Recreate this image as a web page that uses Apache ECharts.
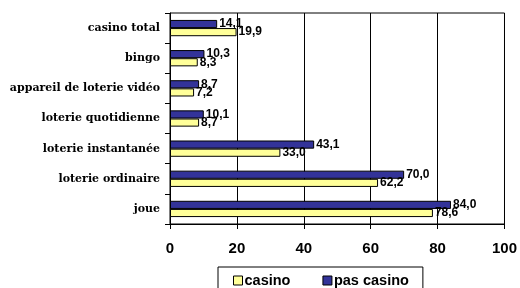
<!DOCTYPE html>
<html>
<head>
<meta charset="utf-8">
<script src="https://cdn.jsdelivr.net/npm/echarts@6/dist/echarts.min.js"></script>
<style>
html, body { margin: 0; padding: 0; background: #fff; }
#chart { width: 520px; height: 288px; }
</style>
</head>
<body>
<div id="chart"></div>
<script>
// categories listed bottom to top
var categories = ['joue', 'loterie ordinaire', 'loterie instantanée', 'loterie quotidienne',
    'appareil de loterie vidéo', 'bingo', 'casino total'];
var casino = [78.6, 62.2, 33.0, 8.7, 7.2, 8.3, 19.9];
var pasCasino = [84.0, 70.0, 43.1, 10.1, 8.7, 10.3, 14.1];
var xTicks = [0, 20, 40, 60, 80, 100];

function fmt(p) {
    return p.value.toFixed(1).replace('.', ',');
}
var labelStyle = {
    show: true,
    position: 'right',
    distance: 2,
    color: '#000',
    fontFamily: 'Liberation Sans, Arial, sans-serif',
    fontWeight: 'bold',
    fontSize: 12,
    formatter: fmt
};

var chart = echarts.init(document.getElementById('chart'));
chart.setOption({
    animation: false,
    grid: {
        left: 170, right: 13, top: 13, bottom: 64,
        show: true, borderColor: '#000', borderWidth: 1
    },
    legend: {
        top: 267,
        left: 218,
        data: ['casino', 'pas casino'],
        itemWidth: 9, itemHeight: 9, itemGap: 32,
        padding: [6, 14, 10, 15],
        borderColor: '#000', borderWidth: 1,
        icon: 'rect',
        itemStyle: { borderColor: '#000', borderWidth: 1 },
        textStyle: {
            color: '#000', fontFamily: 'Liberation Sans, Arial, sans-serif',
            fontWeight: 'bold', fontSize: 14.5, padding: [0, 0, 0, -3]
        }
    },
    xAxis: {
        type: 'value',
        min: xTicks[0], max: xTicks[xTicks.length - 1], interval: 20,
        axisLine: { show: true, lineStyle: { color: '#000' } },
        axisTick: { show: true, length: 5, lineStyle: { color: '#000' } },
        splitLine: { show: true, lineStyle: { color: '#000' } },
        axisLabel: {
            color: '#000', fontFamily: 'Liberation Sans, Arial, sans-serif',
            fontWeight: 'bold', fontSize: 15, margin: 17
        }
    },
    yAxis: {
        type: 'category',
        data: categories,
        axisLine: { show: true, lineStyle: { color: '#000' } },
        axisTick: { show: true, length: 5, lineStyle: { color: '#000' } },
        axisLabel: {
            color: '#000', fontFamily: 'DejaVu Serif, serif',
            fontWeight: 'bold', fontSize: 11, margin: 10
        }
    },
    series: [
        {
            name: 'pas casino', type: 'bar', data: pasCasino,
            barCategoryGap: '46%', barGap: '0%',
            itemStyle: { color: '#333399', borderColor: '#000', borderWidth: 1 },
            label: labelStyle
        },
        {
            name: 'casino', type: 'bar', data: casino,
            barCategoryGap: '46%', barGap: '0%',
            itemStyle: { color: '#ffff99', borderColor: '#000', borderWidth: 1 },
            label: labelStyle
        }
    ]
});
</script>
</body>
</html>
